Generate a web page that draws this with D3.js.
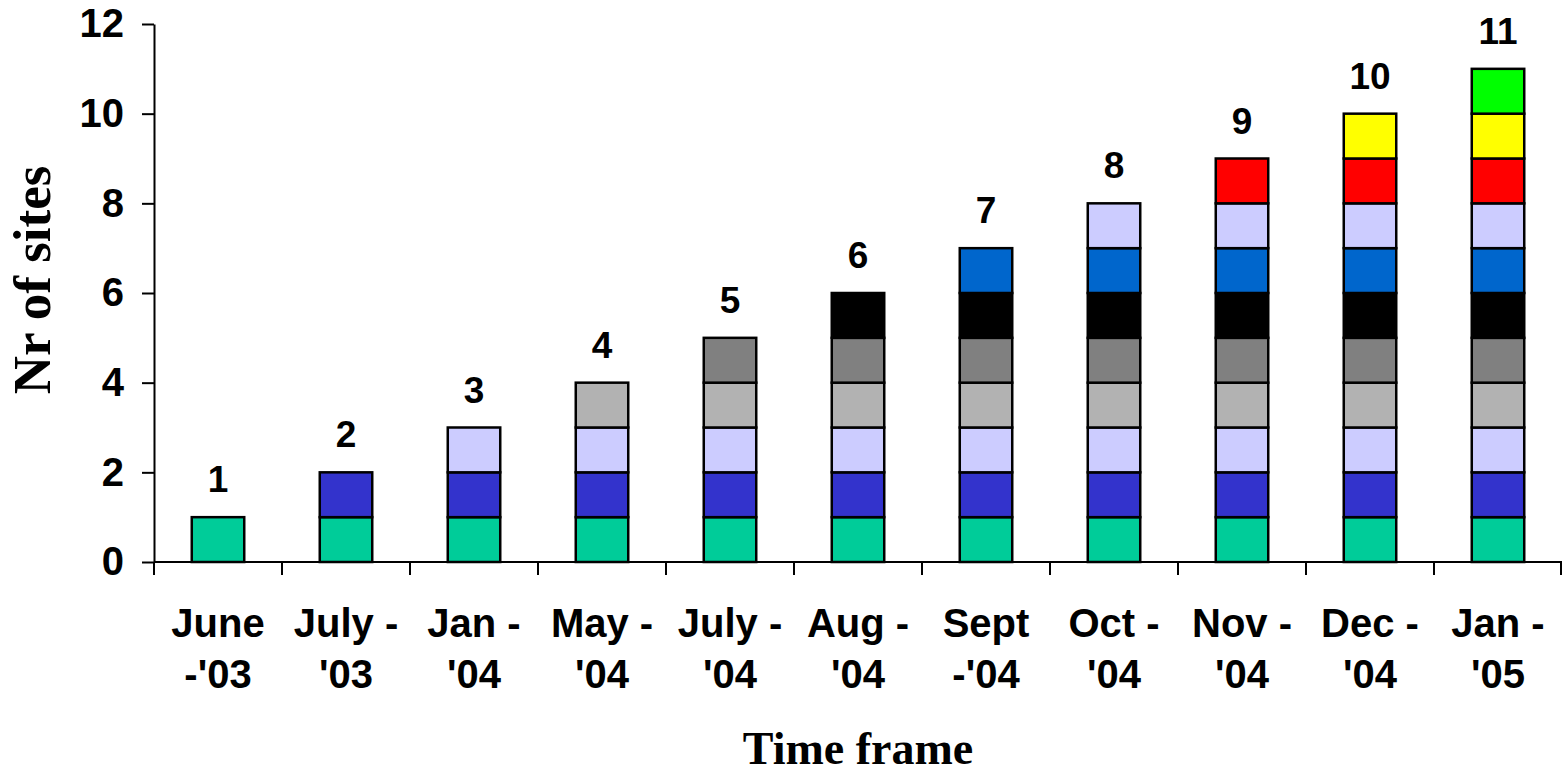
<!DOCTYPE html>
<html>
<head>
<meta charset="utf-8">
<script src="https://cdn.jsdelivr.net/npm/d3@7"></script>
<style>
  body { margin: 0; background: #fff; }
  .tick-label { font-family: Arial, "Liberation Sans", sans-serif; font-weight: bold; font-size: 40px; }
  .value-label { font-family: Arial, "Liberation Sans", sans-serif; font-weight: bold; font-size: 37px; }
  .title { font-family: "Times New Roman", "Liberation Serif", serif; font-weight: bold; }
</style>
</head>
<body>
<div id="chart"></div>
<script>
// categories, two lines per label
var categories = ["June -'03", "July - '03", "Jan - '04", "May - '04", "July - '04", "Aug - '04",
                  "Sept -'04", "Oct - '04", "Nov - '04", "Dec - '04", "Jan - '05"]
var labelLines = [["June", "-'03"], ["July -", "'03"], ["Jan -", "'04"], ["May -", "'04"],
                  ["July -", "'04"], ["Aug -", "'04"], ["Sept", "-'04"], ["Oct -", "'04"],
                  ["Nov -", "'04"], ["Dec -", "'04"], ["Jan -", "'05"]]

// one site per series, added month by month
var site1  = [1, 1, 1, 1, 1, 1, 1, 1, 1, 1, 1]
var site2  = [0, 1, 1, 1, 1, 1, 1, 1, 1, 1, 1]
var site3  = [0, 0, 1, 1, 1, 1, 1, 1, 1, 1, 1]
var site4  = [0, 0, 0, 1, 1, 1, 1, 1, 1, 1, 1]
var site5  = [0, 0, 0, 0, 1, 1, 1, 1, 1, 1, 1]
var site6  = [0, 0, 0, 0, 0, 1, 1, 1, 1, 1, 1]
var site7  = [0, 0, 0, 0, 0, 0, 1, 1, 1, 1, 1]
var site8  = [0, 0, 0, 0, 0, 0, 0, 1, 1, 1, 1]
var site9  = [0, 0, 0, 0, 0, 0, 0, 0, 1, 1, 1]
var site10 = [0, 0, 0, 0, 0, 0, 0, 0, 0, 1, 1]
var site11 = [0, 0, 0, 0, 0, 0, 0, 0, 0, 0, 1]

var yTicks = [0, 2, 4, 6, 8, 10, 12]
var colors = ["#00CC99", "#3333CC", "#CCCCFF", "#B2B2B2", "#808080", "#000000",
              "#0066CC", "#CCCCFF", "#FF0000", "#FFFF00", "#00FF00"]

var series = [site1, site2, site3, site4, site5, site6, site7, site8, site9, site10, site11]
  , keys = series.map(function(s, i) { return "s" + i })
  , rows = categories.map(function(c, j) {
      var r = { cat: c }
      series.forEach(function(s, i) { r["s" + i] = s[j] })
      return r
    })

var W = 1562, H = 774
  , plotLeft = 154, plotRight = 1562, plotTop = 24, plotBottom = 562

var svg = d3.select("#chart").append("svg")
  .attr("width", W)
  .attr("height", H)

var x = d3.scaleBand()
  .domain(categories)
  .range([plotLeft, plotRight])
  .paddingInner(0.59)
  .paddingOuter(0.295)

var y = d3.scaleLinear().domain([0, 12]).range([plotBottom, plotTop])

var stack = d3.stack().keys(keys)(rows)

function total(d) { return d3.sum(keys, function(k) { return d[k] }) }

// bars
svg.append("g").selectAll("g")
  .data(stack)
  .enter().append("g")
    .attr("fill", function(d, i) { return colors[i] })
  .selectAll("rect")
  .data(function(d) { return d.filter(function(p) { return p[1] - p[0] > 0 }) })
  .enter().append("rect")
    .attr("x", function(d) { return x(d.data.cat) })
    .attr("y", function(d) { return y(d[1]) })
    .attr("width", x.bandwidth())
    .attr("height", function(d) { return y(d[0]) - y(d[1]) })
    .attr("stroke", "#000")
    .attr("stroke-width", 2.5)

// totals above bars
svg.append("g").selectAll("text")
  .data(rows)
  .enter().append("text")
    .attr("class", "value-label")
    .attr("text-anchor", "middle")
    .attr("x", function(d) { return x(d.cat) + x.bandwidth() / 2 })
    .attr("y", function(d) { return y(total(d)) - 25 })
    .text(total)

// y axis
var yAxis = svg.append("g")
  .attr("transform", "translate(" + plotLeft + ",0)")
  .call(d3.axisLeft(y).tickValues(yTicks).tickSize(12).tickPadding(18).tickSizeOuter(0))
yAxis.select(".domain").attr("stroke", "#000").attr("stroke-width", 2)
yAxis.selectAll(".tick line").attr("stroke", "#000").attr("stroke-width", 2)
yAxis.selectAll(".tick text").attr("class", "tick-label").attr("fill", "#000")

// x axis line and ticks at category boundaries
svg.append("line")
  .attr("x1", plotLeft).attr("x2", plotRight)
  .attr("y1", plotBottom).attr("y2", plotBottom)
  .attr("stroke", "#000").attr("stroke-width", 2)

svg.append("g").selectAll("line")
  .data(d3.range(categories.length + 1))
  .enter().append("line")
    .attr("x1", function(i) { return Math.min(plotLeft + i * x.step(), plotRight - 1) })
    .attr("x2", function(i) { return Math.min(plotLeft + i * x.step(), plotRight - 1) })
    .attr("y1", plotBottom)
    .attr("y2", plotBottom + 13)
    .attr("stroke", "#000").attr("stroke-width", 2)

var xl = svg.append("g").selectAll("text")
  .data(categories)
  .enter().append("text")
    .attr("class", "tick-label")
    .attr("text-anchor", "middle")
    .attr("x", function(d) { return x(d) + x.bandwidth() / 2 })
    .attr("y", 637)

xl.append("tspan").text(function(d, i) { return labelLines[i][0] })
xl.append("tspan")
  .attr("x", function(d) { return x(d) + x.bandwidth() / 2 })
  .attr("dy", 51)
  .text(function(d, i) { return labelLines[i][1] })

// axis titles
svg.append("text")
  .attr("class", "title")
  .attr("text-anchor", "middle")
  .attr("x", (plotLeft + plotRight) / 2)
  .attr("y", 764)
  .style("font-size", "46px")
  .text("Time frame")

svg.append("text")
  .attr("class", "title")
  .attr("text-anchor", "middle")
  .attr("transform", "translate(50,280) rotate(-90)")
  .style("font-size", "53px")
  .text("Nr of sites")
</script>
</body>
</html>
